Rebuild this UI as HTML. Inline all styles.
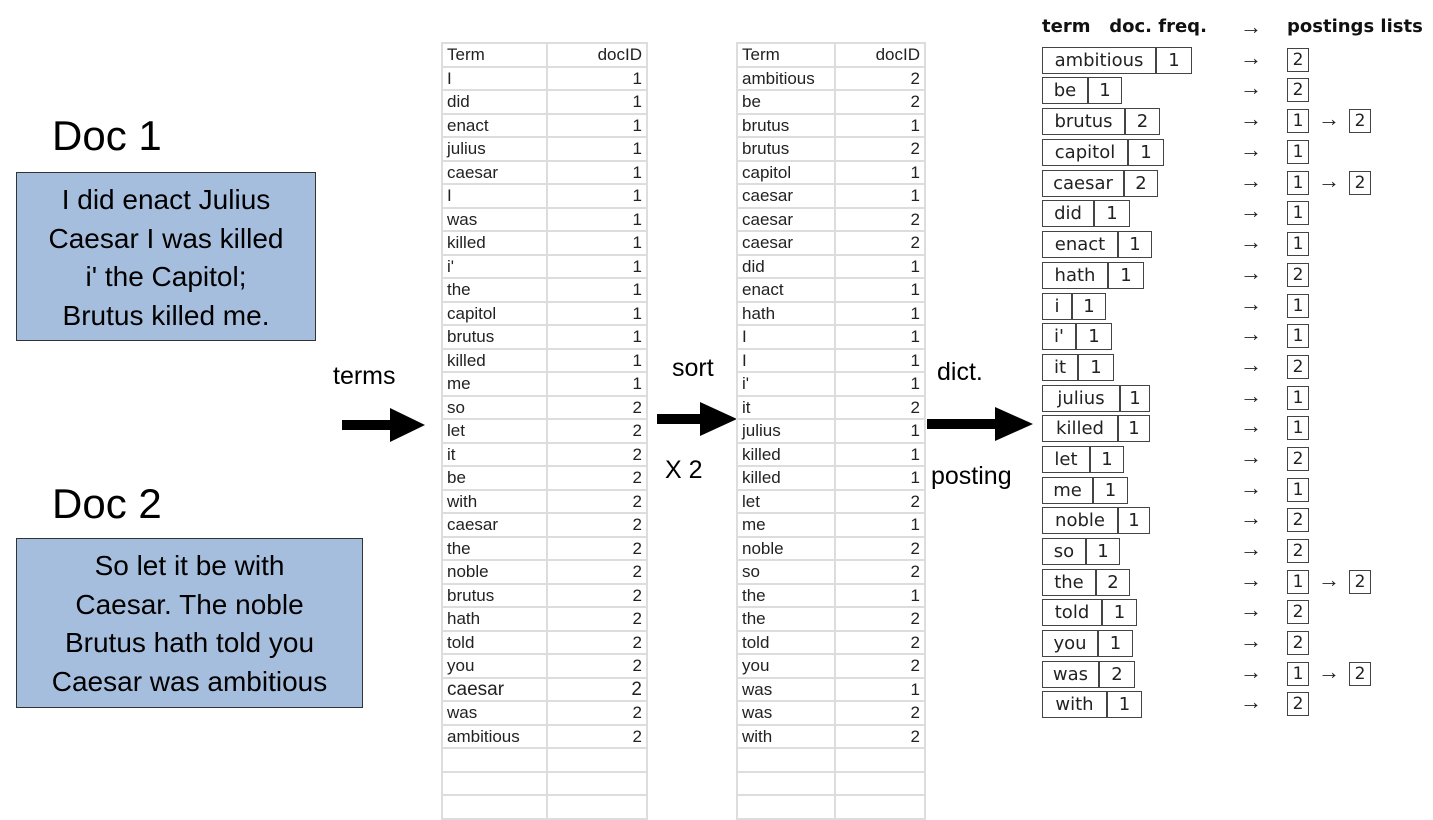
<!DOCTYPE html>
<html><head><meta charset="utf-8"><style>
body{margin:0;width:1433px;height:811px;background:#fff;position:relative;overflow:hidden;font-family:"Liberation Sans",sans-serif;}
.a{position:absolute;}
.doc{font-size:42px;color:#000;}
.box{background:#a6bedd;border:1.5px solid #333;box-sizing:border-box;font-size:28px;text-align:center;line-height:38.5px;color:#000;}
table{position:absolute;border-collapse:collapse;font-size:17px;color:#222;font-family:"Liberation Sans",sans-serif;}
tr{height:23.5px;}
td{border:2px solid #ddd;padding:0 4px;line-height:19px;}
td.r{text-align:right;}
.lbl{font-size:25px;}
.t{position:absolute;left:1042px;height:27px;display:flex;font-family:"DejaVu Sans",sans-serif;font-size:18px;color:#222;}
.t span{border:1.5px solid #444;box-sizing:border-box;height:27px;line-height:25px;text-align:center;}
.p{position:absolute;width:22px;height:24px;border:1.5px solid #444;box-sizing:border-box;text-align:center;line-height:22px;font-family:"DejaVu Sans",sans-serif;font-size:17px;color:#222;}
.ar{position:absolute;font-family:"Liberation Serif",serif;font-size:22px;color:#222;margin-top:-2px;}
</style></head><body>
<div class="a doc" style="left:52px;top:112px">Doc 1</div>
<div class="a box" style="left:16px;top:172px;width:300px;height:169px;padding-top:8px">I did enact Julius<br>Caesar I was killed<br>i' the Capitol;<br>Brutus killed me.</div>
<div class="a doc" style="left:52px;top:480px">Doc 2</div>
<div class="a box" style="left:16px;top:538px;width:347px;height:170px;padding-top:8px">So let it be with<br>Caesar. The noble<br>Brutus hath told you<br>Caesar was ambitious</div>

<div class="a lbl" style="left:333px;top:362px">terms</div>
<div class="a lbl" style="left:672px;top:354px">sort</div>
<div class="a lbl" style="left:665px;top:456px">X 2</div>
<div class="a lbl" style="left:937px;top:358px">dict.</div>
<div class="a lbl" style="left:931px;top:462px">posting</div>
<svg class="a" style="left:0;top:0" width="1433" height="811">
<polygon points="342,420 390,420 390,408 425,425 390,442 390,430 342,430" fill="#000"/>
<polygon points="657,414 700,414 700,402 737,419 700,436 700,424 657,424" fill="#000"/>
<polygon points="927,419 995,419 995,407 1033,424 995,441 995,429 927,429" fill="#000"/>
</svg>

<table style="left:441px;top:42px;width:207px">
<tr><td style="width:95px">Term</td><td class="r">docID</td></tr>
<tr><td>I</td><td class="r">1</td></tr><tr><td>did</td><td class="r">1</td></tr><tr><td>enact</td><td class="r">1</td></tr><tr><td>julius</td><td class="r">1</td></tr><tr><td>caesar</td><td class="r">1</td></tr><tr><td>I</td><td class="r">1</td></tr><tr><td>was</td><td class="r">1</td></tr><tr><td>killed</td><td class="r">1</td></tr><tr><td>i'</td><td class="r">1</td></tr><tr><td>the</td><td class="r">1</td></tr><tr><td>capitol</td><td class="r">1</td></tr><tr><td>brutus</td><td class="r">1</td></tr><tr><td>killed</td><td class="r">1</td></tr><tr><td>me</td><td class="r">1</td></tr><tr><td>so</td><td class="r">2</td></tr><tr><td>let</td><td class="r">2</td></tr><tr><td>it</td><td class="r">2</td></tr><tr><td>be</td><td class="r">2</td></tr><tr><td>with</td><td class="r">2</td></tr><tr><td>caesar</td><td class="r">2</td></tr><tr><td>the</td><td class="r">2</td></tr><tr><td>noble</td><td class="r">2</td></tr><tr><td>brutus</td><td class="r">2</td></tr><tr><td>hath</td><td class="r">2</td></tr><tr><td>told</td><td class="r">2</td></tr><tr><td>you</td><td class="r">2</td></tr><tr><td style="font-size:19px">caesar</td><td class="r" style="font-size:19px">2</td></tr><tr><td>was</td><td class="r">2</td></tr><tr><td>ambitious</td><td class="r">2</td></tr>
<tr><td></td><td></td></tr><tr><td></td><td></td></tr><tr><td></td><td></td></tr>
</table>

<table style="left:736px;top:42px;width:190px">
<tr><td style="width:88px">Term</td><td class="r">docID</td></tr>
<tr><td>ambitious</td><td class="r">2</td></tr><tr><td>be</td><td class="r">2</td></tr><tr><td>brutus</td><td class="r">1</td></tr><tr><td>brutus</td><td class="r">2</td></tr><tr><td>capitol</td><td class="r">1</td></tr><tr><td>caesar</td><td class="r">1</td></tr><tr><td>caesar</td><td class="r">2</td></tr><tr><td>caesar</td><td class="r">2</td></tr><tr><td>did</td><td class="r">1</td></tr><tr><td>enact</td><td class="r">1</td></tr><tr><td>hath</td><td class="r">1</td></tr><tr><td>I</td><td class="r">1</td></tr><tr><td>I</td><td class="r">1</td></tr><tr><td>i'</td><td class="r">1</td></tr><tr><td>it</td><td class="r">2</td></tr><tr><td>julius</td><td class="r">1</td></tr><tr><td>killed</td><td class="r">1</td></tr><tr><td>killed</td><td class="r">1</td></tr><tr><td>let</td><td class="r">2</td></tr><tr><td>me</td><td class="r">1</td></tr><tr><td>noble</td><td class="r">2</td></tr><tr><td>so</td><td class="r">2</td></tr><tr><td>the</td><td class="r">1</td></tr><tr><td>the</td><td class="r">2</td></tr><tr><td>told</td><td class="r">2</td></tr><tr><td>you</td><td class="r">2</td></tr><tr><td>was</td><td class="r">1</td></tr><tr><td>was</td><td class="r">2</td></tr><tr><td>with</td><td class="r">2</td></tr>
<tr><td></td><td></td></tr><tr><td></td><td></td></tr><tr><td></td><td></td></tr>
</table>

<div class="a" style="left:1042px;top:16px;font-family:'DejaVu Sans',sans-serif;font-weight:bold;font-size:18px;color:#111;white-space:pre">term   doc. freq.</div>
<div class="ar" style="left:1240px;top:16px">→</div>
<div class="a" style="left:1287px;top:16px;font-family:'DejaVu Sans',sans-serif;font-weight:bold;font-size:18px;color:#111">postings lists</div>

<div class="t" style="top:47px"><span style="width:114px">ambitious</span><span style="width:36px">1</span></div>
<div class="t" style="top:77px"><span style="width:46px">be</span><span style="width:34px">1</span></div>
<div class="t" style="top:108px"><span style="width:83px">brutus</span><span style="width:35px">2</span></div>
<div class="t" style="top:139px"><span style="width:86px">capitol</span><span style="width:36px">1</span></div>
<div class="t" style="top:170px"><span style="width:82px">caesar</span><span style="width:34px">2</span></div>
<div class="t" style="top:200px"><span style="width:52px">did</span><span style="width:36px">1</span></div>
<div class="t" style="top:231px"><span style="width:76px">enact</span><span style="width:34px">1</span></div>
<div class="t" style="top:262px"><span style="width:66px">hath</span><span style="width:36px">1</span></div>
<div class="t" style="top:293px"><span style="width:30px">i</span><span style="width:34px">1</span></div>
<div class="t" style="top:323px"><span style="width:34px">i'</span><span style="width:36px">1</span></div>
<div class="t" style="top:354px"><span style="width:36px">it</span><span style="width:36px">1</span></div>
<div class="t" style="top:385px"><span style="width:78px">julius</span><span style="width:30px">1</span></div>
<div class="t" style="top:415px"><span style="width:76px">killed</span><span style="width:32px">1</span></div>
<div class="t" style="top:446px"><span style="width:48px">let</span><span style="width:34px">1</span></div>
<div class="t" style="top:477px"><span style="width:51px">me</span><span style="width:35px">1</span></div>
<div class="t" style="top:507px"><span style="width:76px">noble</span><span style="width:32px">1</span></div>
<div class="t" style="top:538px"><span style="width:44px">so</span><span style="width:34px">1</span></div>
<div class="t" style="top:569px"><span style="width:54px">the</span><span style="width:34px">2</span></div>
<div class="t" style="top:599px"><span style="width:60px">told</span><span style="width:35px">1</span></div>
<div class="t" style="top:630px"><span style="width:56px">you</span><span style="width:35px">1</span></div>
<div class="t" style="top:661px"><span style="width:57px">was</span><span style="width:36px">2</span></div>
<div class="t" style="top:691px"><span style="width:65px">with</span><span style="width:35px">1</span></div>

<div class="ar" style="left:1240px;top:47px">→</div><div class="p" style="left:1287px;top:48px">2</div>
<div class="ar" style="left:1240px;top:77px">→</div><div class="p" style="left:1287px;top:78px">2</div>
<div class="ar" style="left:1240px;top:108px">→</div><div class="p" style="left:1287px;top:109px">1</div><div class="ar" style="left:1318px;top:108px">→</div><div class="p" style="left:1349px;top:109px">2</div>
<div class="ar" style="left:1240px;top:139px">→</div><div class="p" style="left:1287px;top:140px">1</div>
<div class="ar" style="left:1240px;top:170px">→</div><div class="p" style="left:1287px;top:171px">1</div><div class="ar" style="left:1318px;top:170px">→</div><div class="p" style="left:1349px;top:171px">2</div>
<div class="ar" style="left:1240px;top:200px">→</div><div class="p" style="left:1287px;top:201px">1</div>
<div class="ar" style="left:1240px;top:231px">→</div><div class="p" style="left:1287px;top:232px">1</div>
<div class="ar" style="left:1240px;top:262px">→</div><div class="p" style="left:1287px;top:263px">2</div>
<div class="ar" style="left:1240px;top:293px">→</div><div class="p" style="left:1287px;top:294px">1</div>
<div class="ar" style="left:1240px;top:323px">→</div><div class="p" style="left:1287px;top:324px">1</div>
<div class="ar" style="left:1240px;top:354px">→</div><div class="p" style="left:1287px;top:355px">2</div>
<div class="ar" style="left:1240px;top:385px">→</div><div class="p" style="left:1287px;top:386px">1</div>
<div class="ar" style="left:1240px;top:415px">→</div><div class="p" style="left:1287px;top:416px">1</div>
<div class="ar" style="left:1240px;top:446px">→</div><div class="p" style="left:1287px;top:447px">2</div>
<div class="ar" style="left:1240px;top:477px">→</div><div class="p" style="left:1287px;top:478px">1</div>
<div class="ar" style="left:1240px;top:507px">→</div><div class="p" style="left:1287px;top:508px">2</div>
<div class="ar" style="left:1240px;top:538px">→</div><div class="p" style="left:1287px;top:539px">2</div>
<div class="ar" style="left:1240px;top:569px">→</div><div class="p" style="left:1287px;top:570px">1</div><div class="ar" style="left:1318px;top:569px">→</div><div class="p" style="left:1349px;top:570px">2</div>
<div class="ar" style="left:1240px;top:599px">→</div><div class="p" style="left:1287px;top:600px">2</div>
<div class="ar" style="left:1240px;top:630px">→</div><div class="p" style="left:1287px;top:631px">2</div>
<div class="ar" style="left:1240px;top:661px">→</div><div class="p" style="left:1287px;top:662px">1</div><div class="ar" style="left:1318px;top:661px">→</div><div class="p" style="left:1349px;top:662px">2</div>
<div class="ar" style="left:1240px;top:691px">→</div><div class="p" style="left:1287px;top:692px">2</div>
</body></html>
